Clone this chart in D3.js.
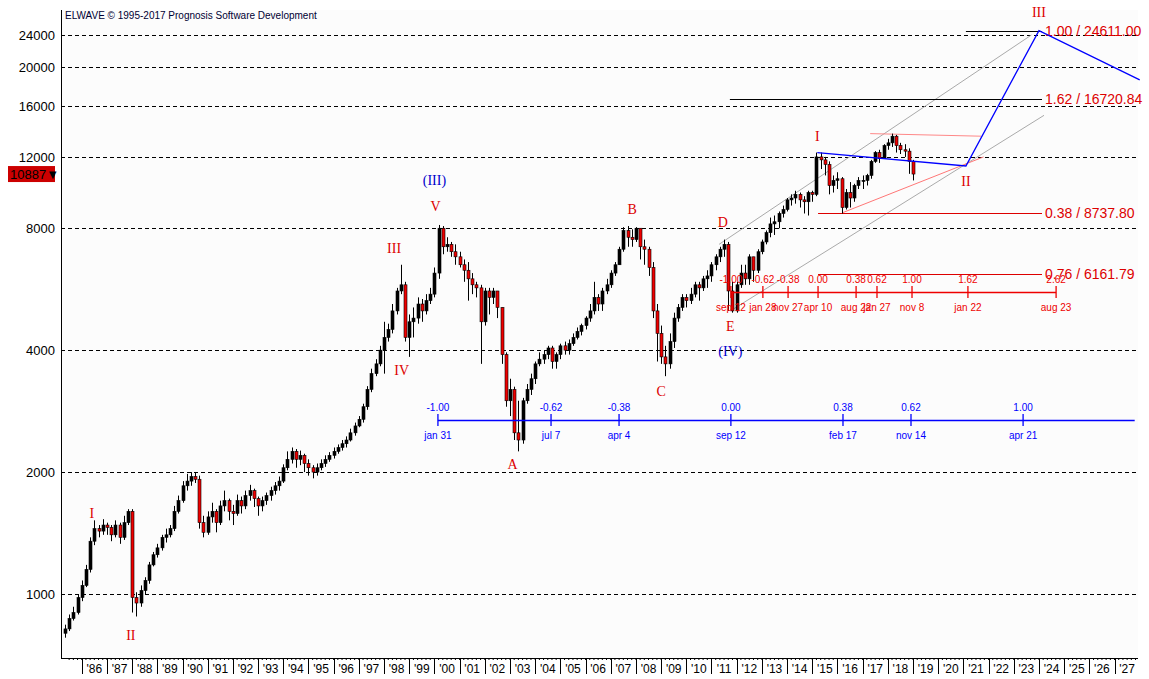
<!DOCTYPE html>
<html><head><meta charset="utf-8">
<script src="https://cdn.jsdelivr.net/npm/d3@7/dist/d3.min.js"></script>
<style>body{margin:0;background:#fff}svg{display:block}</style>
</head><body><svg id="c" width="1149" height="679"></svg>
<script>
const startDate = 1985.25; // first bimonthly candle
const closes = [820,870,900,980,1050,
1150,1350,1450,1430,1480,1460, 1400,1480,1380,1500,1600,980, 950,1020,1080,1180,1250,1300,
1380,1400,1450,1600,1700,1850, 1900,1950,1920,1500,1420,1550, 1600,1500,1650,1700,1600,1580,
1700,1650,1750,1800,1720,1650, 1700,1750,1800,1850,1900,2050, 2150,2250,2150,2200,2100,2050,
2000,2050,2100,2150,2200,2250, 2300,2350,2400,2500,2600,2700, 2900,3200,3500,3700,4000,4300,
4500,5000,5600,5800,4300,4700, 4800,5200,5000,5300,5500,6200, 8000,7200,7300,7000,6800,6500,
6300,6000,5800,5700,4700,5600, 5400,5600,5100,3900,3000,3200, 2500,2400,3000,3200,3400,3700,
3800,3900,4050,3750,3900,4100, 4000,4150,4300,4450,4600,4800, 5000,5400,5200,5600,5800,6200,
6500,7100,7900,7600,7500,8000, 7200,7100,6400,5000,4400,3850, 3700,4200,4800,5100,5400,5300,
5500,5800,5700,6000,6100,6500, 6800,7100,7300,5600,5000,5800, 6200,6000,6800,6300,7000,7400,
7800,8200,8300,8700,8900,9400, 9500,9700,9400,9300,9800,9700, 12000,11800,11500,10200,10500,10600,
9000,9800,9500,10200,10500,10500, 10800,11700,12300,11900,12800,13000, 13500,12800,12500,12400,11700,10887];
const highs = [840,890,930,1000,1080,
1180,1380,1520,1480,1530,1500, 1480,1520,1500,1560,1620,1620, 1010,1050,1100,1200,1270,1330,
1400,1450,1480,1650,1750,1900, 1980,2000,1990,1960,1560,1600, 1680,1620,1700,1800,1720,1660,
1760,1740,1800,1860,1820,1740, 1740,1780,1840,1890,1950,2090, 2250,2300,2280,2260,2220,2150,
2080,2100,2150,2200,2240,2300, 2340,2400,2450,2560,2650,2750, 2950,3260,3600,3800,4100,4700,
4650,5200,5700,6500,5900,4900, 5100,5400,5350,5500,5700,6400, 8150,8100,7600,7400,7300,7000,
6700,6600,6200,5900,5800,5700, 5700,5700,5600,5100,3950,3400, 3250,3000,3050,3300,3500,3750,
3950,4000,4100,4100,3950,4150, 4200,4250,4400,4550,4650,4850, 5200,5900,5500,5700,6000,6300,
6600,7200,8050,8100,7950,8050, 8000,7500,7200,6600,5200,4600, 4100,4400,4950,5200,5500,5500,
5700,5900,5900,6100,6300,6600, 6900,7200,7500,7400,5900,5900, 6500,6500,6900,6800,7100,7500,
7900,8500,8600,8800,9100,9500, 9700,9900,9800,9600,9900,9900, 12300,12300,12000,11700,10800,11000,
10700,10000,10400,10300,10700,10800, 10900,11800,12400,12500,12900,13300, 13700,13600,13000,12900,12600,11800];
const lows = [780,810,860,890,960,
1040,1130,1320,1380,1400,1400, 1350,1380,1330,1360,1480,900, 880,930,1000,1060,1170,1230,
1280,1340,1380,1430,1580,1680, 1800,1850,1880,1450,1380,1400, 1500,1420,1480,1600,1520,1480,
1560,1580,1620,1700,1640,1560, 1600,1660,1700,1760,1800,1880, 2020,2100,2050,2080,2000,1960,
1930,1960,2020,2060,2120,2160, 2220,2260,2300,2380,2460,2580, 2650,2850,3150,3450,3650,3500,
4200,4400,4900,5500,4200,3850, 4300,4650,4700,4900,5200,5400, 6000,6900,7000,6800,6500,6400,
5900,5300,5500,5400,3700,4600, 4900,5200,4800,3700,2900,2750, 2400,2250,2350,2950,3100,3300,
3650,3700,3800,3600,3600,3800, 3900,3900,4100,4250,4350,4500, 4700,4900,5000,5000,5500,5700,
6100,6500,7000,7200,7200,7400, 6700,6500,6100,4800,3750,3700, 3450,3600,4050,4700,5000,5100,
5200,5400,5300,5600,5700,5900, 6300,6600,6800,5000,4950,4950, 5700,5800,5800,5900,6200,6900,
7300,7600,7700,8000,8500,8800, 9100,9200,9000,8700,8600,9300, 9600,11200,10800,9700,9800,10000,
8700,8900,9000,9300,10000,10000, 10200,10600,11600,11600,11900,12500, 12700,12300,12200,12000,10900,10500];
const firstOpen = 800;
const yTicks = [24000,20000,16000,12000,8000,4000,2000,1000];
const yearLabels = d3.range(1986,2028).map(y=>"'"+String(y%100).padStart(2,"0"));
const waveLabels = [
 {t:"I",d:1986.4,v:1420,c:"#d00",dy:-14},{t:"II",d:1987.95,v:880,c:"#d00",dy:24},
 {t:"III",d:1998.4,v:6500,c:"#d00",dy:-12},{t:"IV",d:1998.7,v:3850,c:"#d00",dy:18},
 {t:"V",d:2000.05,v:8150,c:"#d00",dy:-14},{t:"(III)",d:2000.0,v:8150,c:"#00c",dy:-40},
 {t:"A",d:2003.1,v:2250,c:"#d00",dy:18},{t:"B",d:2007.85,v:8100,c:"#d00",dy:-12},
 {t:"C",d:2009.0,v:3450,c:"#d00",dy:20},{t:"D",d:2011.45,v:7500,c:"#d00",dy:-13},
 {t:"E",d:2011.75,v:4950,c:"#d00",dy:18},{t:"(IV)",d:2011.75,v:4950,c:"#00c",dy:43},
 {t:"I",d:2015.2,v:12300,c:"#d00",dy:-12},{t:"II",d:2021.1,v:11400,c:"#d00",dy:20},
 {t:"III",d:2024.0,v:24611,c:"#d00",dy:-14}];
const blueFibRatios = ["-1.00","-0.62","-0.38","0.00","0.38","0.62","1.00"];
const blueFibDates = [2000.14,2004.63,2007.33,2011.77,2016.22,2018.92,2023.37];
const blueFibLabels = ["jan 31","jul 7","apr 4","sep 12","feb 17","nov 14","apr 21"];
const redFibRatios = ["-1.00","-0.62","-0.38","0.00","0.38","0.62","1.00","1.62","2.62"];
const redFibDates = [2011.77,2013.04,2014.04,2015.23,2016.74,2017.57,2018.96,2021.18,2024.68];
const redFibLabels = ["sep 12","jan 28","nov 27","apr 10","aug 22","jan 27","nov 8","jan 22","aug 23"];
const priceTargets = [
 {t:"1.00 / 24611.00",v:24611,d0:2021.1,col:"#000"},
 {t:"1.62 / 16720.84",v:16720,d0:2011.73,col:"#000"},
 {t:"0.38 / 8737.80",v:8737.8,d0:2015.23,col:"#d00"},
 {t:"0.76 / 6161.79",v:6161.79,d0:2015.23,col:"#d00"}];
const projection = [[2015.2,12300],[2021.1,11400],[2024.0,24611],[2028,18600]];
const chanUpper = [[2011.3,7300],[2023.7,24000]];
const chanLower = [[2011.75,5000],[2024.2,15200]];
const redLine = [[2016.2,8737.8],[2021.8,12000]];
const pinkLine = [[2017.3,13700],[2021.7,13500]];

const svg = d3.select("#c");
const L=61,R=1138,T=10,B=658;
const x = d3.scaleLinear().domain([2000.5,2027.5]).range([447,447+27*25.19]);
const y = d3.scaleLog().domain([1000,24000]).range([594,35]);
svg.append("rect").attr("x",L).attr("y",T).attr("width",R-L).attr("height",B-T).attr("fill","#fcfcfc");
const g = svg.append("g");
yTicks.forEach(v=>{
 g.append("line").attr("x1",L).attr("x2",R).attr("y1",Math.round(y(v))+.5).attr("y2",Math.round(y(v))+.5)
  .attr("stroke","#000").attr("stroke-dasharray","4,3");
 svg.append("text").attr("x",55).attr("y",y(v)+5).attr("text-anchor","end").attr("font-family","Liberation Sans, Arial").attr("font-size",13).text(v);
});
svg.append("line").attr("x1",L+.5).attr("x2",L+.5).attr("y1",T).attr("y2",B).attr("stroke","#000");
svg.append("line").attr("x1",L).attr("x2",R).attr("y1",B+.5).attr("y2",B+.5).attr("stroke","#000");
yearLabels.forEach((lab,i)=>{
 const yr=1986+i;
 svg.append("line").attr("x1",Math.round(x(yr))+.5).attr("x2",Math.round(x(yr))+.5).attr("y1",B).attr("y2",B+16).attr("stroke","#000");
 svg.append("text").attr("x",x(yr+0.5)).attr("y",B+15).attr("text-anchor","middle").attr("font-family","Liberation Sans Narrow, Liberation Sans, Arial").attr("font-size",12).text(lab);
});
d3.range(1985.5,2028,1/6).forEach(d=>{ if(x(d)>L&&x(d)<R) svg.append("line").attr("x1",x(d)).attr("x2",x(d)).attr("y1",B).attr("y2",B+2).attr("stroke","#000");});
svg.append("text").attr("x",65).attr("y",19).attr("font-family","Liberation Sans, Arial").attr("font-size",10).attr("fill","#003").text("ELWAVE © 1995-2017 Prognosis Software Development");
const ln = d3.line().x(d=>x(d[0])).y(d=>y(d[1]));
[chanUpper,chanLower].forEach(p=>g.append("path").attr("d",ln(p)).attr("stroke","#aaa").attr("fill","none"));
g.append("path").attr("d",ln(redLine)).attr("stroke","#f77").attr("fill","none");
g.append("path").attr("d",ln(pinkLine)).attr("stroke","#f88").attr("fill","none");
priceTargets.forEach(p=>{
 g.append("line").attr("x1",x(p.d0)).attr("x2",1042).attr("y1",Math.round(y(p.v))+.5).attr("y2",Math.round(y(p.v))+.5).attr("stroke",p.col);
 g.append("text").attr("x",1045).attr("y",y(p.v)+5).attr("fill","#d00").attr("font-family","Liberation Sans, Arial").attr("font-size",14).text(p.t);
});
let prev = firstOpen;
closes.forEach((c,i)=>{
 const o=prev; prev=c;
 const cx=Math.round(x(startDate+i/6+1/12));
 const up=c>=o;
 g.append("line").attr("x1",cx+.5).attr("x2",cx+.5).attr("y1",y(highs[i])).attr("y2",y(lows[i])).attr("stroke","#000");
 const yt=y(Math.max(o,c)), yb=y(Math.min(o,c));
 g.append("rect").attr("x",cx-1).attr("y",yt).attr("width",3).attr("height",Math.max(1,yb-yt))
  .attr("fill",up?"#000":"#e00").attr("stroke","#000").attr("stroke-width",0.6);
});
g.append("path").attr("d",ln(projection)).attr("stroke","#00f").attr("stroke-width",1.3).attr("fill","none");
function fibAxis(dates,ratios,labels,yy,col,d0,d1,fs){
 g.append("line").attr("x1",x(d0)).attr("x2",x(d1)).attr("y1",yy+.5).attr("y2",yy+.5).attr("stroke",col).attr("stroke-width",1.3);
 dates.forEach((d,i)=>{
  g.append("line").attr("x1",x(d)).attr("x2",x(d)).attr("y1",yy-6).attr("y2",yy+6).attr("stroke",col).attr("stroke-width",1.3);
  g.append("text").attr("x",x(d)).attr("y",yy-9).attr("text-anchor","middle").attr("fill",col).attr("font-family","Liberation Sans, Arial").attr("font-size",fs).text(ratios[i]);
  g.append("text").attr("x",x(d)).attr("y",yy+19).attr("text-anchor","middle").attr("fill",col).attr("font-family","Liberation Sans, Arial").attr("font-size",fs).text(labels[i]);
 });
}
fibAxis(blueFibDates,blueFibRatios,blueFibLabels,420,"#00f",blueFibDates[0],2027.8,10);
fibAxis(redFibDates,redFibRatios,redFibLabels,292,"#e00",redFibDates[0],redFibDates[8],10);
waveLabels.forEach(w=>{
 g.append("text").attr("x",x(w.d)).attr("y",y(w.v)+w.dy).attr("text-anchor","middle").attr("fill",w.c)
  .attr("font-family","Liberation Serif, Times New Roman").attr("font-size",14).text(w.t);
});
const lp=closes[closes.length-1];
svg.append("rect").attr("x",8).attr("y",y(lp)-8).attr("width",47).attr("height",16).attr("fill","#c00");
svg.append("text").attr("x",10).attr("y",y(lp)+5).attr("font-family","Liberation Sans, Arial").attr("font-size",13).attr("fill","#000").text(lp+"▼");
</script></body></html>
